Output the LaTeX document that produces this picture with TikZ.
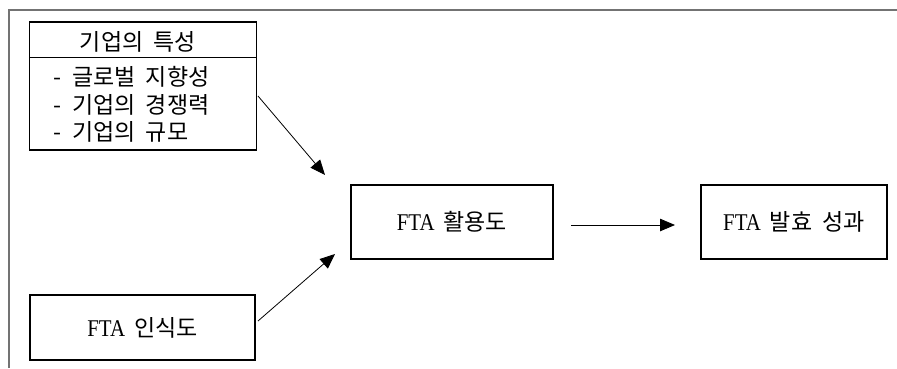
\documentclass[tikz,border=0pt]{standalone}
\usepackage{fontspec}
\setmainfont[FakeStretch=0.87]{Liberation Serif}
\newfontfamily\kr[WordSpace=2]{Noto Sans CJK KR}
\usetikzlibrary{arrows.meta}
\newcommand{\fsep}{\hspace{9pt}}
\begin{document}
\begin{tikzpicture}[x=1pt,y=-1pt,
  box/.style={draw=black,line width=1.2pt,rectangle,inner sep=0pt,font=\fontsize{24}{28}\selectfont},
  txt/.style={inner sep=0pt,font=\fontsize{23}{27}\selectfont\kr},
  arr/.style={line width=0.8pt,-{Triangle[length=15pt,width=12.5pt]}},
  frame/.style={draw=black!55,line width=1.6pt}]
\useasboundingbox (0,0) rectangle (897,368);
% outer frame (top and left edges)
\draw[frame] (9,368) -- (9,10) -- (897,10);
% box 1
\node[box,minimum width=227pt,minimum height=128pt] (b1) at (143,86) {};
\node[txt] (t1) at (138,42) {기업의 특성};
\coordinate (d1) at (29.5,57.5);
\coordinate (d2) at (256.5,57.5);
\draw[line width=1.2pt] (d1) -- (d2);
\node[txt,anchor=west] (l1) at (53,77) {-\hspace{11pt}글로벌 지향성};
\node[txt,anchor=west] (l2) at (53,105) {-\hspace{11pt}기업의 경쟁력};
\node[txt,anchor=west] (l3) at (53,132) {-\hspace{11pt}기업의 규모};
% box FTA awareness
\node[box,minimum width=225pt,minimum height=65pt] (b2) at (142.5,327.5) {FTA\fsep{\fontsize{23}{27}\selectfont\kr 인식도}};
% box FTA use
\node[box,minimum width=202pt,minimum height=74pt] (b3) at (452,222) {FTA\fsep{\fontsize{23}{27}\selectfont\kr 활용도}};
% box FTA effect
\node[box,minimum width=186pt,minimum height=74pt] (b4) at (794,222) {FTA\fsep{\fontsize{23}{27}\selectfont\kr 발효 성과}};
% arrows
\coordinate (a1s) at (258,96);
\coordinate (a1e) at (325,175);
\coordinate (a2s) at (258,321);
\coordinate (a2e) at (335,254);
\coordinate (a3s) at (571,225);
\coordinate (a3e) at (675,225);
\draw[arr] (a1s) -- (a1e);
\draw[arr] (a2s) -- (a2e);
\draw[arr] (a3s) -- (a3e);
\end{tikzpicture}
\end{document}
